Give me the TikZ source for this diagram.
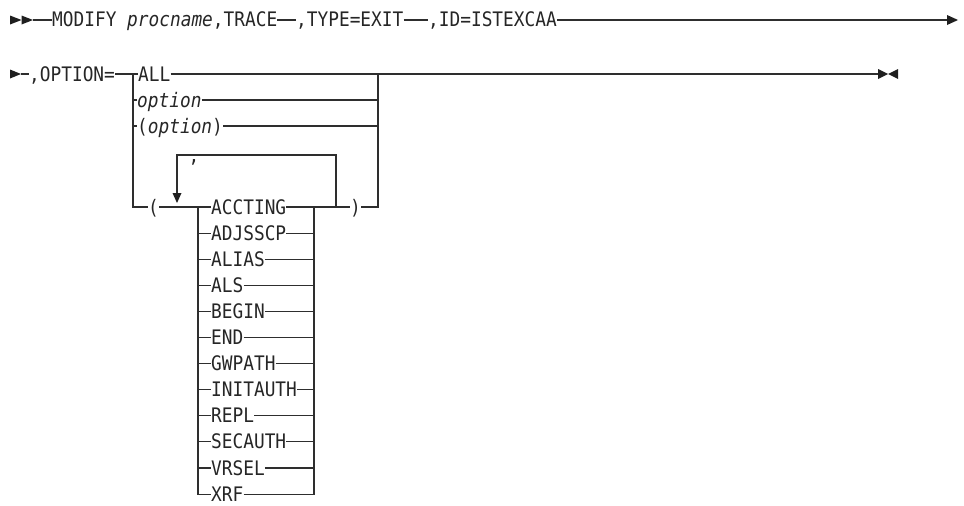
\documentclass[tikz,border=0pt]{standalone}
\usepackage{fontspec}
\newfontfamily\synmono[FakeStretch=0.89]{DejaVu Sans Mono}
\begin{document}
\begin{tikzpicture}[x=1pt,y=-1pt,
  lbl/.style={inner sep=0pt, text height=14pt, text depth=0pt, anchor=west,
    font={\synmono\fontsize{20pt}{21pt}\selectfont}, text=black!85},
  ln/.style={draw=black!82, line width=1.1pt},
  tip/.style={fill=black!88},
]
\useasboundingbox (0,0) rectangle (964,506);

% ---------- row 1 ----------
\coordinate (m1) at (33,20);
\fill[tip] (10,15.5) -- (21.5,20) -- (10,24.5) -- cycle;
\fill[tip] (21.5,15.5) -- (33,20) -- (21.5,24.5) -- cycle;
\node[lbl] (t1) at (52,20) {MODIFY \textit{procname},TRACE};
\node[lbl] (t2) at (296,20) {,TYPE=EXIT};
\node[lbl] (t3) at (428,20) {,ID=ISTEXCAA};
\coordinate (e1) at (947,20);
\draw[ln] (m1) -- (t1.west);
\draw[ln] (t1.east) -- (t2.west);
\draw[ln] (t2.east) -- (t3.west);
\draw[ln] (t3.east) -- (e1);
\fill[tip] (947,15) -- (958,20) -- (947,25) -- cycle;

% ---------- row 2 ----------
\fill[tip] (10,69.5) -- (21,74) -- (10,78.5) -- cycle;
\coordinate (m2) at (21,74);
\node[lbl] (opt) at (29,74) {,OPTION=};
\coordinate (L0) at (133,74);
\coordinate (L1) at (133,100);
\coordinate (L2) at (133,126);
\coordinate (L3) at (133,207);
\coordinate (R0) at (378,74);
\coordinate (R1) at (378,100);
\coordinate (R2) at (378,126);
\coordinate (R3) at (378,207);
\node[lbl] (all) at (138,74) {ALL};
\node[lbl] (o1) at (137,100) {\textit{option}};
\node[lbl] (o2) at (137,126) {(\textit{option})};
\coordinate (e2) at (878,74);
\draw[ln] (m2) -- (opt.west);
\draw[ln] (opt.east) -- (L0) -- (all.west);
\draw[ln] (all.east) -- (R0) -- (e2);
\draw[ln] (L1) -- (o1.west);
\draw[ln] (o1.east) -- (R1);
\draw[ln] (L2) -- (o2.west);
\draw[ln] (o2.east) -- (R2);
\coordinate (d1) at (385,73.6);
\coordinate (d2) at (405,73.6);
\draw[ln, line width=2.2pt] (d1) -- (d2);
\fill[tip] (878,69) -- (888,74) -- (878,79) -- cycle;
\fill[tip] (898,69) -- (888,74) -- (898,79) -- cycle;

% ---------- parenthesised list ----------
\node[lbl] (lp) at (148,207) {(};
\node[lbl] (rp) at (350,207) {)};
\coordinate (lr) at (336,207);
\coordinate (lt) at (336,155);
\coordinate (lt2) at (177,155);
\coordinate (ah) at (177,193);
\node[lbl, anchor=center] (cm) at (194,155) {,};
\draw[ln] (L0) -- (L3) -- (lp.west);
\draw[ln] (rp.east) -- (R3) -- (R0);
\draw[ln] (lr) -- (lt) -- (lt2) -- (ah);
\fill[tip] (172.5,193) -- (181.5,193) -- (177,203) -- cycle;

\foreach \nm [count=\k from 0] in {ACCTING,ADJSSCP,ALIAS,ALS,BEGIN,END,GWPATH,INITAUTH,REPL,SECAUTH,VRSEL,XRF}{
  \pgfmathsetmacro\yy{207+26.1*\k}
  \coordinate (al\k) at (198,\yy);
  \coordinate (ar\k) at (314,\yy);
  \node[lbl] (i\k) at (211,\yy) {\nm};
}
\draw[ln] (lp.east) -- (al0);
\draw[ln] (ar0) -- (lr) -- (rp.west);
\draw[ln] (al0) -- (al11) -- (i11.west);
\draw[ln] (i11.east) -- (ar11) -- (ar0);
\foreach \k in {0,...,10}{
  \draw[ln] (al\k) -- (i\k.west);
  \draw[ln] (i\k.east) -- (ar\k);
}
\end{tikzpicture}
\end{document}
